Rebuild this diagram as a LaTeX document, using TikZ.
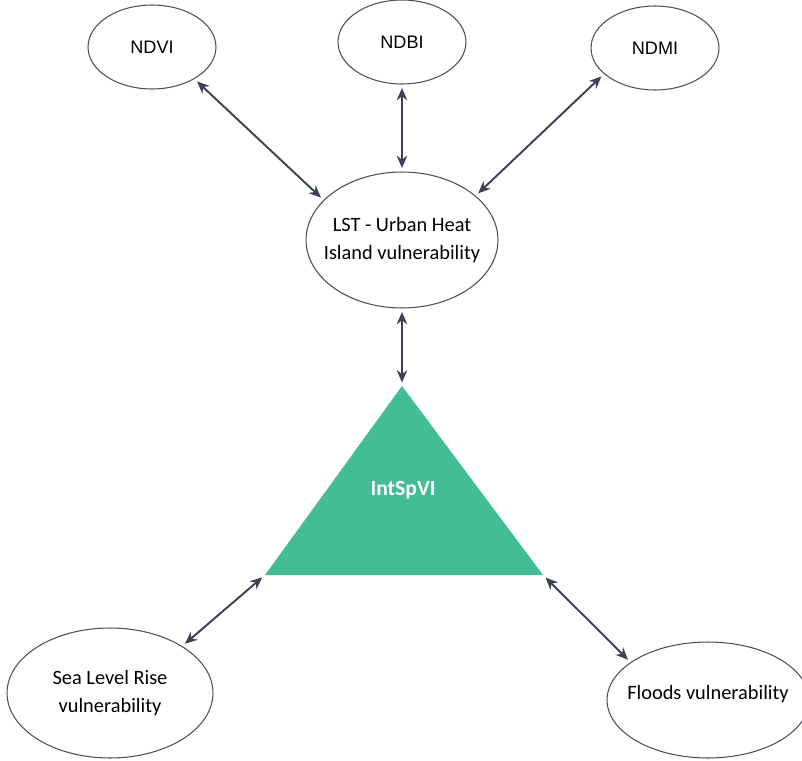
\documentclass[tikz,border=0pt]{standalone}
\usepackage{fontspec}
\setmainfont{Carlito}
\newfontfamily\indexfont{Liberation Sans}
\usepackage{tikz}
\usetikzlibrary{shapes.geometric,arrows.meta}
\definecolor{edge}{HTML}{3B4158}
\definecolor{rim}{HTML}{4A4F5E}
\definecolor{spvi}{HTML}{43BD95}
% text that does not push the ellipse outwards
\newcommand{\inbox}[2][-6pt]{\raisebox{#1}{\makebox[0pt]{\smash{\begin{tabular}{@{}c@{}}#2\end{tabular}}}}}
\tikzset{idx/.style={ellipse,draw=rim,line width=0.6pt,fill=white,minimum width=2.56cm,minimum height=1.68cm,font=\indexfont\fontsize{10.3}{12}\selectfont}}
\tikzset{vul/.style={ellipse,draw=rim,line width=0.6pt,fill=white,inner sep=0pt,font=\fontsize{11.6}{16}\selectfont}}
\tikzset{link/.style={{Stealth[length=7pt,width=6pt]}-{Stealth[length=7pt,width=6pt]},draw=edge,line width=1.1pt,shorten <=2pt,shorten >=2pt}}

\begin{document}
\begin{tikzpicture}[x=0.02cm,y=-0.02cm]
    \useasboundingbox (0,0) rectangle (802,761);

    \node[idx] (ndvi) at (152,47) {NDVI};
    \node[idx] (ndbi) at (402,42) {NDBI};
    \node[idx] (ndmi) at (655,48) {NDMI};

    \node[vul,minimum width=3.84cm,minimum height=2.72cm] (lst) at (402,240)
    {\inbox{LST - Urban Heat\\Island vulnerability}};

    % the index triangle
    \coordinate (top) at (402,386);
    \coordinate (bl) at (265,575);
    \coordinate (br) at (543,575);
    \fill[spvi] (top) -- (bl) -- (br) -- cycle;
    \node[text=white,font=\bfseries\fontsize{12.3}{14}\selectfont] (int) at (403,490) {IntSpVI};

    \node[vul,minimum width=4.12cm,minimum height=2.6cm] (slr) at (110,693)
    {\inbox{Sea Level Rise\\vulnerability}};
    \node[vul,minimum width=4.04cm,minimum height=2.32cm] (flood) at (708,700)
    {\inbox[1pt]{Floods vulnerability}};

    \draw[link] (ndvi.-37) -- (lst.153);
    \draw[link] (ndbi.south) -- (lst.north);
    \draw[link] (ndmi.207) -- (lst.31);
    \draw[link] (lst.south) -- (top);
    \draw[link] (slr.33) -- (bl);
    \draw[link] (flood.154) -- (br);
  \end{tikzpicture}
\end{document}
